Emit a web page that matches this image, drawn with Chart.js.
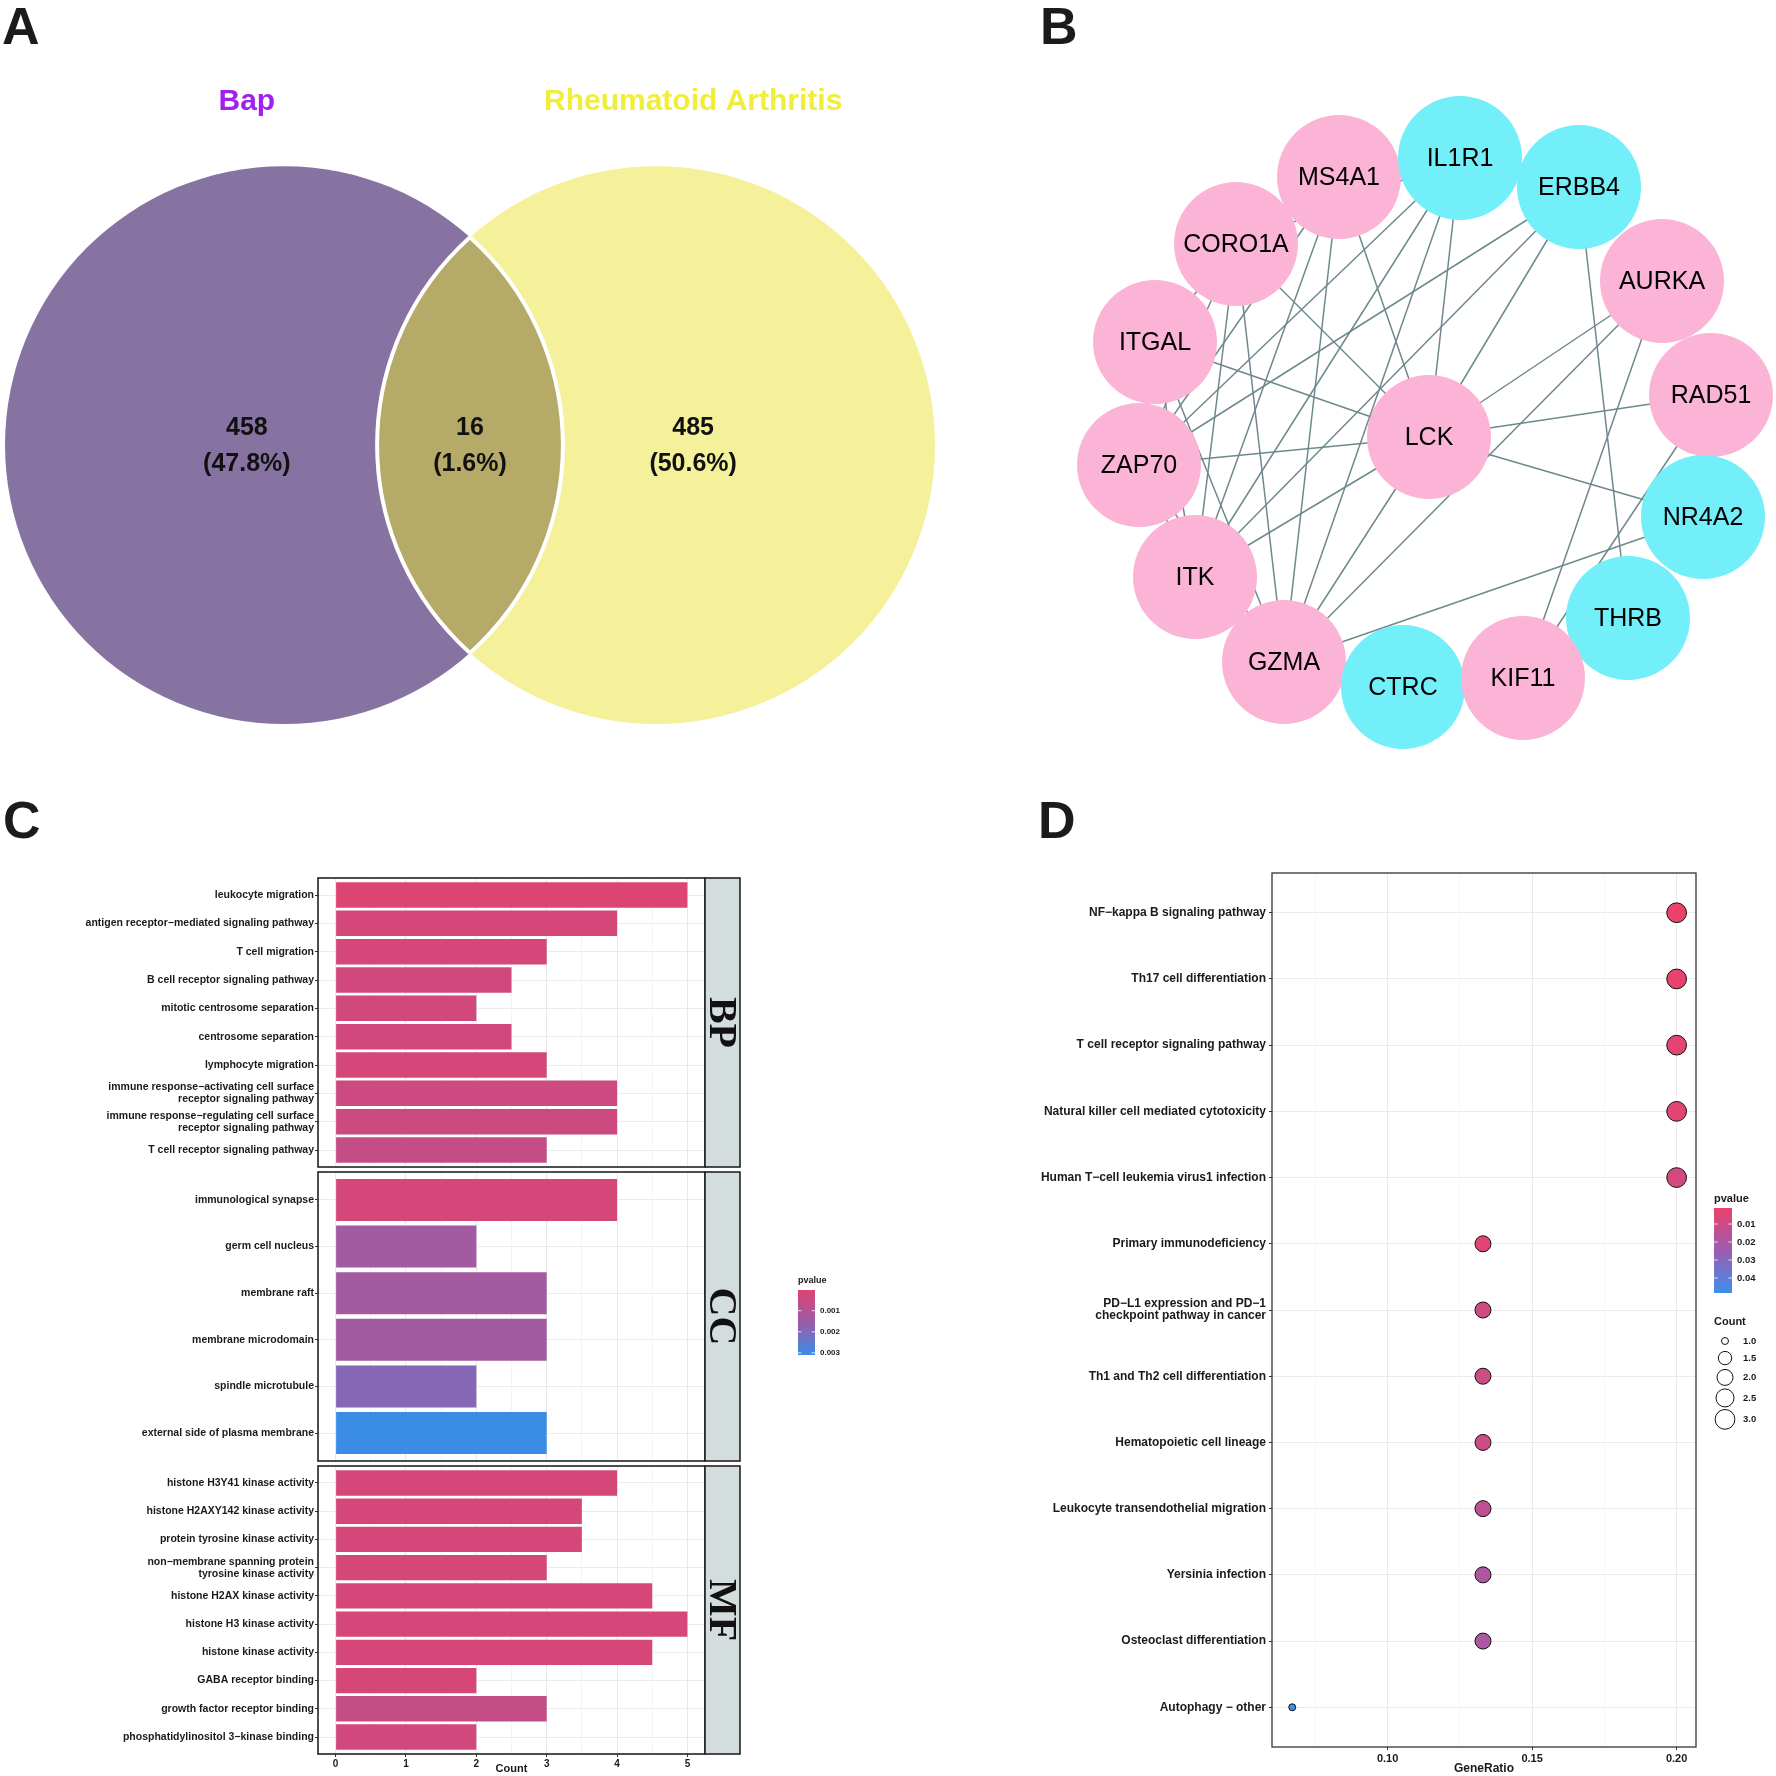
<!DOCTYPE html>
<html>
<head>
<meta charset="utf-8">
<title>Bap and rheumatoid arthritis</title>
<script src="https://cdn.jsdelivr.net/npm/chart.js@4.4.1/dist/chart.umd.min.js"></script>
<style>
  body { margin: 0; background: #fff; }
  #page { position: relative; width: 1776px; height: 1776px; overflow: hidden; background: #fff; }
  #page canvas { position: absolute; }
  .tag { position: absolute; font: bold 52px "Liberation Sans", Arial, sans-serif; line-height: 1; color: #1b1b1b; z-index: 5; }
</style>
</head>
<body>
<div id="page">
  <canvas id="venn" width="940" height="860" style="left:0;top:0"></canvas>
  <canvas id="ppi" width="836" height="780" style="left:940px;top:0"></canvas>
  <canvas id="goBP" width="880" height="302" style="left:0;top:868px"></canvas>
  <canvas id="goCC" width="880" height="293" style="left:0;top:1170px"></canvas>
  <canvas id="goMF" width="880" height="313" style="left:0;top:1463px"></canvas>
  <canvas id="kegg" width="776" height="916" style="left:1000px;top:860px"></canvas>
  <div class="tag" style="left:2px;top:0">A</div>
  <div class="tag" style="left:1040px;top:0">B</div>
  <div class="tag" style="left:3px;top:794px">C</div>
  <div class="tag" style="left:1038px;top:794px">D</div>
</div>
<script>
// --- data ---

// A: Venn
const vennNames = ['Bap', 'Rheumatoid Arthritis'];
const vennCounts = [458, 16, 485];          // Bap only, both, RA only
const vennPercents = ['47.8%', '1.6%', '50.6%'];

// B: PPI network (node centres)
const geneNames = ['MS4A1', 'IL1R1', 'ERBB4', 'CORO1A', 'AURKA', 'ITGAL', 'RAD51', 'LCK',
                   'ZAP70', 'NR4A2', 'ITK', 'THRB', 'GZMA', 'CTRC', 'KIF11'];
const geneX = [1339, 1460, 1579, 1236, 1662, 1155, 1711, 1429, 1139, 1703, 1195, 1628, 1284, 1403, 1523];
const geneY = [177, 158, 187, 244, 281, 342, 395, 437, 465, 517, 577, 618, 662, 687, 678];
const geneCyan = [0, 1, 1, 0, 0, 0, 0, 0, 0, 1, 0, 1, 0, 1, 0];
const geneEdges = [
  ['LCK', 'ZAP70'], ['LCK', 'ITK'], ['LCK', 'GZMA'], ['LCK', 'ITGAL'], ['LCK', 'CORO1A'],
  ['LCK', 'MS4A1'], ['LCK', 'IL1R1'], ['LCK', 'ERBB4'], ['LCK', 'AURKA'], ['LCK', 'RAD51'],
  ['LCK', 'NR4A2'],
  ['GZMA', 'NR4A2'], ['GZMA', 'AURKA'], ['GZMA', 'IL1R1'], ['GZMA', 'MS4A1'], ['GZMA', 'CORO1A'],
  ['GZMA', 'ZAP70'], ['GZMA', 'ITGAL'],
  ['ITK', 'CORO1A'], ['ITK', 'MS4A1'], ['ITK', 'IL1R1'], ['ITK', 'ERBB4'], ['ITK', 'ITGAL'],
  ['ITK', 'ZAP70'],
  ['ZAP70', 'ERBB4'], ['ZAP70', 'IL1R1'], ['ZAP70', 'CORO1A'], ['ZAP70', 'MS4A1'], ['ZAP70', 'ITGAL'],
  ['CORO1A', 'IL1R1'], ['CORO1A', 'ITGAL'], ['CORO1A', 'MS4A1'],
  ['KIF11', 'RAD51'], ['KIF11', 'AURKA'], ['THRB', 'ERBB4']
];

// C: GO enrichment
const goBP = ['leukocyte migration', 'antigen receptor−mediated signaling pathway', 'T cell migration',
  'B cell receptor signaling pathway', 'mitotic centrosome separation', 'centrosome separation',
  'lymphocyte migration', 'immune response−activating cell surface\nreceptor signaling pathway',
  'immune response−regulating cell surface\nreceptor signaling pathway', 'T cell receptor signaling pathway'];
const goBPCount = [5, 4, 3, 2.5, 2, 2.5, 3, 4, 4, 3];
const goBPP = [0.00002, 0.0002, 0.0002, 0.0003, 0.0003, 0.0003, 0.0002, 0.0004, 0.0004, 0.0006];

const goCC = ['immunological synapse', 'germ cell nucleus', 'membrane raft', 'membrane microdomain',
  'spindle microtubule', 'external side of plasma membrane'];
const goCCCount = [4, 2, 3, 3, 2, 3];
const goCCP = [0.0002, 0.0014, 0.0014, 0.0014, 0.0019, 0.0031];

const goMF = ['histone H3Y41 kinase activity', 'histone H2AXY142 kinase activity', 'protein tyrosine kinase activity',
  'non−membrane spanning protein\ntyrosine kinase activity', 'histone H2AX kinase activity',
  'histone H3 kinase activity', 'histone kinase activity', 'GABA receptor binding',
  'growth factor receptor binding', 'phosphatidylinositol 3−kinase binding'];
const goMFCount = [4, 3.5, 3.5, 3, 4.5, 5, 4.5, 2, 3, 2];
const goMFP = [0.0002, 0.0002, 0.0002, 0.0002, 0.0002, 0.0002, 0.0002, 0.0002, 0.0006, 0.0003];

const countTicks = [0, 1, 2, 3, 4, 5];
const pTicksGO = [0.001, 0.002, 0.003];

// D: KEGG
const keggTerms = ['NF−kappa B signaling pathway', 'Th17 cell differentiation', 'T cell receptor signaling pathway',
  'Natural killer cell mediated cytotoxicity', 'Human T−cell leukemia virus1 infection', 'Primary immunodeficiency',
  'PD−L1 expression and PD−1\ncheckpoint pathway in cancer', 'Th1 and Th2 cell differentiation',
  'Hematopoietic cell lineage', 'Leukocyte transendothelial migration', 'Yersinia infection',
  'Osteoclast differentiation', 'Autophagy − other'];
const keggRatio = [0.2, 0.2, 0.2, 0.2, 0.2, 0.133, 0.133, 0.133, 0.133, 0.133, 0.133, 0.133, 0.067];
const keggCount = [3, 3, 3, 3, 3, 2, 2, 2, 2, 2, 2, 2, 1];
const keggP = [0.0011, 0.002, 0.003, 0.003, 0.008, 0.004, 0.009, 0.010, 0.010, 0.014, 0.019, 0.020, 0.0483];
const ratioTicks = [0.10, 0.15, 0.20];
const ratioMinor = [0.075, 0.125, 0.175];
const pTicksKegg = [0.01, 0.02, 0.03, 0.04];
const countBreaks = [1.0, 1.5, 2.0, 2.5, 3.0];

// --- helpers ---
Chart.defaults.font.family = '"Liberation Sans", Arial, sans-serif';
Chart.defaults.color = '#1a1a1a';

const base = {
  responsive: false,
  animation: false,
  devicePixelRatio: 1,
  plugins: { legend: { display: false }, tooltip: { enabled: false } }
};

function ramp(hexes) {
  const rgb = hexes.map(h => [1, 3, 5].map(i => parseInt(h.slice(i, i + 2), 16)));
  return t => {
    t = Math.min(1, Math.max(0, t));
    const s = t * (rgb.length - 1);
    const i = Math.min(Math.floor(s), rgb.length - 2);
    const f = s - i;
    const c = rgb[i].map((v, k) => Math.round(v + (rgb[i + 1][k] - v) * f));
    return 'rgb(' + c.join(',') + ')';
  };
}
const rampGO = ramp(['#dc4472', '#9b5ca7', '#3a8ce5']);
const rampKegg = ramp(['#e9426b', '#9c5cb1', '#3e8fea']);

const allGoP = goBPP.concat(goCCP, goMFP);
const goLo = Math.min(...allGoP), goHi = Math.max(...allGoP);
const goColor = p => rampGO((p - goLo) / (goHi - goLo));
const kgLo = Math.min(...keggP), kgHi = Math.max(...keggP);
const kgColor = p => rampKegg((p - kgLo) / (kgHi - kgLo));

// ggplot-like area size scale for dot radius
const dotR = c => 2.2 + 1.28 * (1 + 5 * Math.sqrt((c - 1) / 2));

// keep the plot area where the layout puts it (no extra room for edge labels)
const noEdgePad = s => { s.paddingTop = 0; s.paddingBottom = 0; };

function colorbar(ctx, x, y, w, h, rf, lo, hi, ticks, title, fmt, titleFont, labFont) {
  ctx.save();
  for (let i = 0; i < h; i++) {
    ctx.fillStyle = rf(i / (h - 1));
    ctx.fillRect(x, y + i, w, 1);
  }
  ctx.fillStyle = '#1a1a1a';
  ctx.font = titleFont;
  ctx.textAlign = 'left';
  ctx.textBaseline = 'middle';
  ctx.fillText(title, x, y - 9);
  ctx.font = labFont;
  ticks.forEach(t => {
    const ty = y + (t - lo) / (hi - lo) * h;
    ctx.strokeStyle = 'rgba(255,255,255,0.8)';
    ctx.lineWidth = 1;
    ctx.beginPath();
    ctx.moveTo(x, ty); ctx.lineTo(x + w * 0.2, ty);
    ctx.moveTo(x + w * 0.8, ty); ctx.lineTo(x + w, ty);
    ctx.stroke();
    ctx.fillText(fmt(t), x + w + 5, ty);
  });
  ctx.restore();
}

// --- A: Venn diagram ---
const vennCenters = [-0.667, 0.667];
const vennLabelX = [-0.8, 0, 0.8];
const vennTitleY = 1.237;

const vennPlugin = {
  id: 'venn',
  beforeDatasetsDraw(chart) {
    const { ctx, scales: { x, y } } = chart;
    const r = x.getPixelForValue(1) - x.getPixelForValue(0);
    const cy = y.getPixelForValue(0);
    const cx = vennCenters.map(c => x.getPixelForValue(c));
    const circle = i => { ctx.beginPath(); ctx.arc(cx[i], cy, r, 0, Math.PI * 2); };
    ctx.save();
    circle(0); ctx.fillStyle = '#8673a1'; ctx.fill();
    circle(1); ctx.fillStyle = '#f5f09a'; ctx.fill();
    ctx.save();
    circle(0); ctx.clip();
    circle(1); ctx.fillStyle = '#b5aa68'; ctx.fill();
    ctx.lineWidth = 4; ctx.strokeStyle = '#fff'; ctx.stroke();
    ctx.restore();
    ctx.save();
    circle(1); ctx.clip();
    circle(0); ctx.lineWidth = 4; ctx.strokeStyle = '#fff'; ctx.stroke();
    ctx.restore();
    ctx.restore();
  },
  afterDatasetsDraw(chart) {
    const { ctx, scales: { x, y } } = chart;
    const pts = chart.getDatasetMeta(0).data;
    ctx.save();
    ctx.textAlign = 'center';
    ctx.textBaseline = 'middle';
    ctx.fillStyle = '#111';
    ctx.font = 'bold 25px "Liberation Sans", Arial, sans-serif';
    pts.forEach((p, i) => {
      ctx.fillText(String(vennCounts[i]), p.x, p.y - 17);
      ctx.fillText('(' + vennPercents[i] + ')', p.x, p.y + 19);
    });
    ctx.font = 'bold 30px "Liberation Sans", Arial, sans-serif';
    const ty = y.getPixelForValue(vennTitleY);
    ctx.fillStyle = '#a020f0';
    ctx.fillText(vennNames[0], x.getPixelForValue(vennLabelX[0]), ty + 2);
    ctx.fillStyle = '#f0ee3a';
    ctx.fillText(vennNames[1], x.getPixelForValue(vennLabelX[2]), ty + 2);
    ctx.restore();
  }
};

new Chart(document.getElementById('venn'), {
  type: 'scatter',
  data: { datasets: [{ data: vennLabelX.map(v => ({ x: v, y: 0 })), pointRadius: 0 }] },
  options: {
    ...base,
    layout: { padding: 0, autoPadding: false },
    scales: {
      x: { display: false, min: -1.685, max: 1.685 },
      y: { display: false, min: -1.487, max: 1.595 }
    }
  },
  plugins: [vennPlugin]
});

// --- B: network ---
const nodePts = geneNames.map((g, i) => ({ x: geneX[i], y: geneY[i] }));
const nodeIdx = name => geneNames.indexOf(name);
const edgeSets = geneEdges.map(([a, b]) => ({
  data: [nodePts[nodeIdx(a)], nodePts[nodeIdx(b)]],
  showLine: true,
  borderColor: '#6d898c',
  borderWidth: 1.5,
  pointRadius: 0,
  clip: false,
  order: 2
}));

const nodeLabels = {
  id: 'nodeLabels',
  afterDatasetsDraw(chart) {
    const { ctx } = chart;
    const pts = chart.getDatasetMeta(chart.data.datasets.length - 1).data;
    ctx.save();
    ctx.font = '25px "Liberation Sans", Arial, sans-serif';
    ctx.fillStyle = '#000';
    ctx.textAlign = 'center';
    ctx.textBaseline = 'middle';
    pts.forEach((p, i) => ctx.fillText(geneNames[i], p.x, p.y + 1));
    ctx.restore();
  }
};

new Chart(document.getElementById('ppi'), {
  type: 'scatter',
  data: {
    datasets: [...edgeSets, {
      data: nodePts,
      pointRadius: 62,
      pointHoverRadius: 62,
      pointBackgroundColor: geneCyan.map(c => c ? '#72eff9' : '#fcb4d6'),
      pointBorderWidth: 0,
      clip: false,
      order: 1
    }]
  },
  options: {
    ...base,
    layout: { padding: 0, autoPadding: false },
    scales: {
      x: { display: false, min: 940, max: 1776 },
      y: { display: false, min: 0, max: 780, reverse: true }
    }
  },
  plugins: [nodeLabels]
});

// --- C: GO bar facets ---
const STRIP_W = 35;

function frame(opts) {
  return {
    id: 'frame',
    afterDraw(chart) {
      const { ctx, chartArea: a } = chart;
      ctx.save();
      ctx.strokeStyle = opts.border;
      ctx.lineWidth = opts.lw;
      ctx.strokeRect(a.left, a.top, a.right - a.left, a.bottom - a.top);
      if (opts.strip) {
        ctx.fillStyle = '#d4dddd';
        ctx.fillRect(a.right, a.top, STRIP_W, a.bottom - a.top);
        ctx.strokeRect(a.right, a.top, STRIP_W, a.bottom - a.top);
        ctx.translate(a.right + STRIP_W / 2, (a.top + a.bottom) / 2);
        ctx.rotate(Math.PI / 2);
        ctx.font = 'bold 40px "Liberation Serif", "Times New Roman", serif';
        ctx.textAlign = 'center';
        ctx.textBaseline = 'alphabetic';
        ctx.fillStyle = '#111';
        ctx.fillText(opts.strip, 0, 13);
      }
      ctx.restore();
      if (opts.legend) opts.legend(ctx, chart);
    }
  };
}

const countGrid = [0, 0.5, 1, 1.5, 2, 2.5, 3, 3.5, 4, 4.5, 5];

function goFacet(id, cats, counts, pvals, strip, pad, showX, legend) {
  return new Chart(document.getElementById(id), {
    type: 'bar',
    data: {
      datasets: [{
        data: counts.map((v, i) => ({ x: v, y: i + 1 })),
        backgroundColor: pvals.map(goColor),
        borderWidth: 0,
        barPercentage: 0.9,
        categoryPercentage: 1
      }]
    },
    options: {
      ...base,
      indexAxis: 'y',
      layout: { padding: { top: pad[0], bottom: pad[1], left: 0, right: 175 }, autoPadding: false },
      scales: {
        y: {
          type: 'linear',
          offset: false,
          min: 0.4,
          max: cats.length + 0.6,
          reverse: true,
          afterBuildTicks: s => { s.ticks = cats.map((c, i) => ({ value: i + 1 })); },
          afterFit: s => { s.width = 318; noEdgePad(s); },
          ticks: {
            autoSkip: false,
            padding: 1,
            font: { size: 10.5, weight: 'bold', lineHeight: 1.15 },
            color: '#1a1a1a',
            callback: v => cats[Math.round(v) - 1].split('\n')
          },
          grid: { offset: false, color: '#ebebeb', tickColor: '#333', tickLength: 3 },
          border: { display: false }
        },
        x: {
          type: 'linear',
          min: -0.25,
          max: 5.25,
          afterBuildTicks: s => { s.ticks = countGrid.map(v => ({ value: v })); },
          afterFit: s => { s.height = showX ? 22 : 0; },
          ticks: {
            display: showX,
            autoSkip: false,
            maxRotation: 0,
            padding: 1,
            font: { size: 10, weight: 'bold' },
            color: '#1a1a1a',
            callback: v => countTicks.includes(v) ? String(v) : ''
          },
          grid: {
            color: c => countTicks.includes(c.tick.value) ? '#e8e8e8' : '#f4f4f4',
            tickColor: c => countTicks.includes(c.tick.value) ? '#333' : 'rgba(0,0,0,0)',
            drawTicks: showX,
            tickLength: 3
          },
          border: { display: false },
          title: { display: showX, text: 'Count', padding: 0, font: { size: 11, weight: 'bold' }, color: '#1a1a1a' }
        }
      }
    },
    plugins: [frame({ border: '#222', lw: 1.6, strip, legend })]
  });
}

goFacet('goBP', goBP, goBPCount, goBPP, 'BP', [10, 3], false);
goFacet('goCC', goCC, goCCCount, goCCP, 'CC', [2, 2], false, ctx =>
  colorbar(ctx, 798, 120, 17, 65, rampGO, goLo, goHi, pTicksGO, 'pvalue', t => t.toFixed(3),
    'bold 9px "Liberation Sans", Arial, sans-serif', 'bold 8px "Liberation Sans", Arial, sans-serif'));
goFacet('goMF', goMF, goMFCount, goMFP, 'MF', [3, 0], true);

// --- D: KEGG dot plot ---
const ratioGrid = [0.075, 0.10, 0.125, 0.15, 0.175, 0.20];
const isMajor = v => ratioTicks.some(t => Math.abs(t - v) < 1e-9);

function keggLegend(ctx) {
  colorbar(ctx, 714, 348, 18, 85, rampKegg, kgLo, kgHi, pTicksKegg, 'pvalue', t => t.toFixed(2),
    'bold 11px "Liberation Sans", Arial, sans-serif', 'bold 9.5px "Liberation Sans", Arial, sans-serif');
  ctx.save();
  ctx.fillStyle = '#1a1a1a';
  ctx.font = 'bold 11px "Liberation Sans", Arial, sans-serif';
  ctx.textBaseline = 'middle';
  ctx.textAlign = 'left';
  ctx.fillText('Count', 714, 462);
  ctx.font = 'bold 9.5px "Liberation Sans", Arial, sans-serif';
  let y = 481;
  countBreaks.forEach((c, i) => {
    if (i > 0) y += 12 + (dotR(countBreaks[i - 1]) + dotR(c)) / 2;
    ctx.beginPath();
    ctx.arc(725, y, dotR(c), 0, Math.PI * 2);
    ctx.fillStyle = '#fff';
    ctx.fill();
    ctx.strokeStyle = '#111';
    ctx.lineWidth = 1;
    ctx.stroke();
    ctx.fillStyle = '#1a1a1a';
    ctx.fillText(c.toFixed(1), 743, y);
  });
  ctx.restore();
}

new Chart(document.getElementById('kegg'), {
  type: 'scatter',
  data: {
    datasets: [{
      data: keggRatio.map((v, i) => ({ x: v, y: i + 1 })),
      pointRadius: keggCount.map(dotR),
      pointBackgroundColor: keggP.map(kgColor),
      pointBorderColor: '#111',
      pointBorderWidth: 1,
      clip: false
    }]
  },
  options: {
    ...base,
    layout: { padding: { top: 13, right: 80, left: 0, bottom: 0 }, autoPadding: false },
    scales: {
      x: {
        type: 'linear',
        min: 0.06,
        max: 0.2067,
        afterBuildTicks: s => { s.ticks = ratioGrid.map(v => ({ value: v })); },
        afterFit: s => { s.height = 29; },
        ticks: {
          autoSkip: false,
          maxRotation: 0,
          padding: 2,
          font: { size: 11, weight: 'bold' },
          color: '#1a1a1a',
          callback: v => isMajor(v) ? v.toFixed(2) : ''
        },
        grid: {
          color: c => isMajor(c.tick.value) ? '#ebebeb' : '#f5f5f5',
          tickColor: c => isMajor(c.tick.value) ? '#333' : 'rgba(0,0,0,0)',
          tickLength: 3
        },
        border: { display: false },
        title: { display: true, text: 'GeneRatio', padding: 0, font: { size: 12, weight: 'bold' }, color: '#1a1a1a' }
      },
      y: {
        type: 'linear',
        min: 0.4,
        max: keggTerms.length + 0.6,
        reverse: true,
        afterBuildTicks: s => { s.ticks = keggTerms.map((t, i) => ({ value: i + 1 })); },
        afterFit: s => { s.width = 272; noEdgePad(s); },
        ticks: {
          autoSkip: false,
          padding: 3,
          font: { size: 12, weight: 'bold', lineHeight: 1.0 },
          color: '#1a1a1a',
          callback: v => keggTerms[Math.round(v) - 1].split('\n')
        },
        grid: { color: '#ebebeb', tickColor: '#333', tickLength: 3 },
        border: { display: false }
      }
    }
  },
  plugins: [frame({ border: '#333', lw: 1.3, legend: keggLegend })]
});
</script>
</body>
</html>
